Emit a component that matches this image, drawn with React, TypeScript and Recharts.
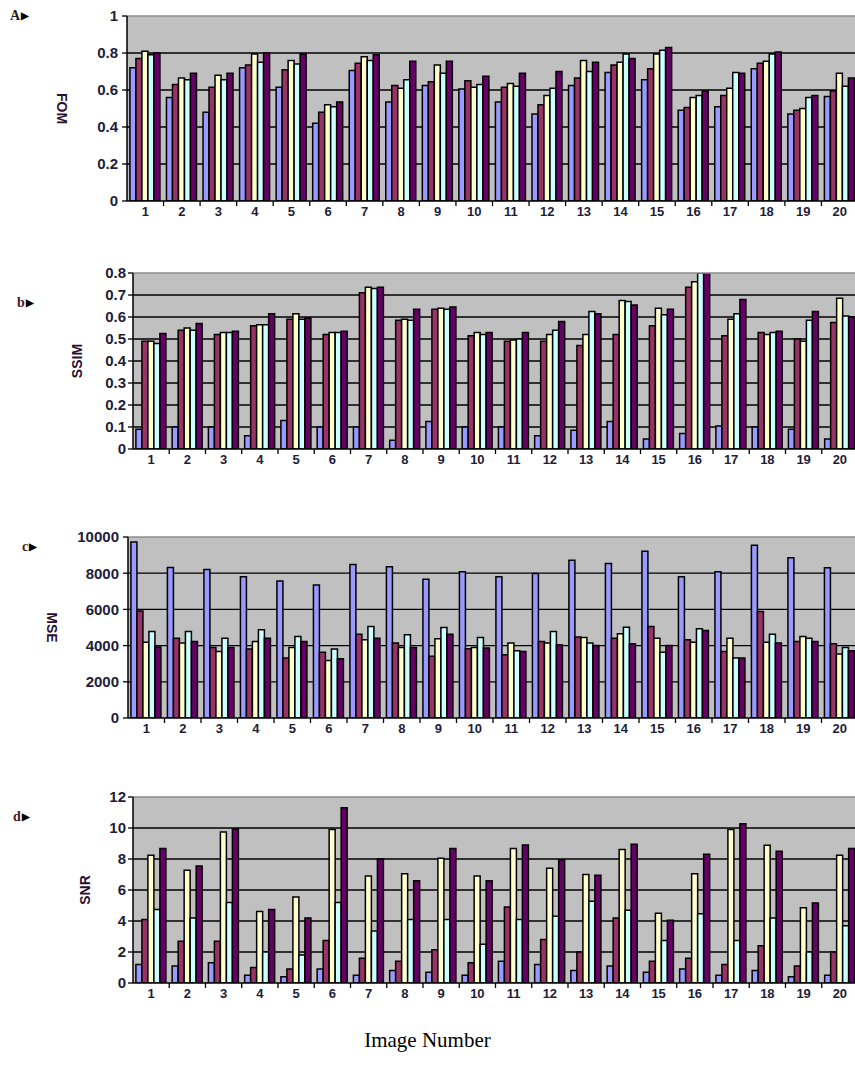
import React from 'react';
import { BarChart, Bar, XAxis, YAxis, CartesianGrid, ReferenceLine } from 'recharts';

const imageNumbers = ['1', '2', '3', '4', '5', '6', '7', '8', '9', '10', '11', '12', '13', '14', '15', '16', '17', '18', '19', '20'];

// FOM (panel A)
const fomLavender = [0.72, 0.56, 0.48, 0.72, 0.615, 0.42, 0.705, 0.535, 0.625, 0.605, 0.535, 0.47, 0.625, 0.695, 0.655, 0.49, 0.51, 0.715, 0.47, 0.565];
const fomMaroon = [0.77, 0.63, 0.615, 0.735, 0.71, 0.48, 0.745, 0.625, 0.645, 0.65, 0.615, 0.52, 0.665, 0.735, 0.715, 0.505, 0.57, 0.745, 0.49, 0.595];
const fomYellow = [0.81, 0.665, 0.68, 0.795, 0.76, 0.52, 0.78, 0.61, 0.735, 0.615, 0.635, 0.57, 0.76, 0.75, 0.795, 0.56, 0.61, 0.755, 0.5, 0.69];
const fomCyan = [0.79, 0.655, 0.655, 0.75, 0.74, 0.51, 0.76, 0.655, 0.69, 0.63, 0.62, 0.61, 0.7, 0.795, 0.815, 0.57, 0.695, 0.795, 0.56, 0.62];
const fomPurple = [0.8, 0.69, 0.69, 0.8, 0.795, 0.535, 0.79, 0.755, 0.755, 0.675, 0.69, 0.7, 0.75, 0.77, 0.83, 0.595, 0.69, 0.805, 0.57, 0.665];

// SSIM (panel b)
const ssimLavender = [0.09, 0.1, 0.1, 0.06, 0.13, 0.1, 0.1, 0.04, 0.125, 0.1, 0.1, 0.06, 0.085, 0.125, 0.045, 0.07, 0.105, 0.1, 0.09, 0.045];
const ssimMaroon = [0.49, 0.54, 0.52, 0.56, 0.59, 0.52, 0.71, 0.585, 0.635, 0.515, 0.49, 0.49, 0.47, 0.52, 0.56, 0.735, 0.515, 0.53, 0.5, 0.575];
const ssimYellow = [0.49, 0.55, 0.53, 0.565, 0.615, 0.53, 0.735, 0.59, 0.64, 0.53, 0.495, 0.52, 0.52, 0.675, 0.64, 0.76, 0.59, 0.52, 0.49, 0.685];
const ssimCyan = [0.48, 0.54, 0.53, 0.565, 0.59, 0.53, 0.73, 0.585, 0.635, 0.52, 0.5, 0.54, 0.625, 0.67, 0.61, 0.8, 0.615, 0.53, 0.585, 0.605];
const ssimPurple = [0.525, 0.57, 0.535, 0.615, 0.595, 0.535, 0.735, 0.635, 0.645, 0.53, 0.53, 0.58, 0.615, 0.655, 0.635, 0.8, 0.68, 0.535, 0.625, 0.6];

// MSE (panel c)
const mseLavender = [9725, 8315, 8205, 7800, 7565, 7345, 8480, 8350, 7670, 8075, 7800, 7985, 8720, 8535, 9210, 7800, 8075, 9540, 8850, 8300];
const mseMaroon = [5915, 4410, 3900, 3810, 3315, 3630, 4630, 4140, 3405, 3830, 3500, 4230, 4470, 4410, 5050, 4320, 3680, 5880, 4230, 4100];
const mseYellow = [4190, 4140, 3680, 4230, 3900, 3170, 4320, 3900, 4375, 3900, 4140, 4140, 4450, 4650, 4410, 4190, 4410, 4190, 4500, 3535];
const mseCyan = [4780, 4780, 4410, 4870, 4500, 3810, 5050, 4600, 5000, 4450, 3720, 4780, 4140, 5020, 3630, 4930, 3315, 4630, 4410, 3900];
const msePurple = [3920, 4230, 3900, 4410, 4230, 3280, 4410, 3900, 4630, 3865, 3680, 4050, 4010, 4100, 4010, 4840, 3315, 4140, 4230, 3720];

// SNR (panel d)
const snrLavender = [1.2, 1.1, 1.3, 0.5, 0.4, 0.9, 0.5, 0.8, 0.7, 0.5, 1.4, 1.2, 0.8, 1.1, 0.7, 0.9, 0.5, 0.8, 0.4, 0.5];
const snrMaroon = [4.1, 2.7, 2.7, 1.0, 0.9, 2.75, 1.6, 1.4, 2.15, 1.3, 4.9, 2.8, 2.0, 4.2, 1.4, 1.6, 1.2, 2.4, 1.1, 2.0];
const snrYellow = [8.24, 7.27, 9.75, 4.62, 5.55, 9.9, 6.9, 7.05, 8.05, 6.9, 8.67, 7.4, 7.0, 8.62, 4.5, 7.05, 9.9, 8.88, 4.86, 8.24];
const snrCyan = [4.75, 4.2, 5.2, 2.0, 1.8, 5.2, 3.35, 4.1, 4.1, 2.5, 4.1, 4.3, 5.27, 4.7, 2.75, 4.47, 2.75, 4.2, 2.0, 3.7];
const snrPurple = [8.67, 7.55, 9.93, 4.75, 4.2, 11.3, 8.0, 6.6, 8.67, 6.6, 8.9, 7.95, 6.95, 8.95, 4.05, 8.3, 10.28, 8.5, 5.16, 8.67];

const fomTicks = [0, 0.2, 0.4, 0.6, 0.8, 1];
const ssimTicks = [0, 0.1, 0.2, 0.3, 0.4, 0.5, 0.6, 0.7, 0.8];
const mseTicks = [0, 2000, 4000, 6000, 8000, 10000];
const snrTicks = [0, 2, 4, 6, 8, 10, 12];

const COLORS = ['#9999FF', '#993366', '#FFFFCC', '#CCFFFF', '#660066'];
const KEYS = ['m1', 'm2', 'm3', 'm4', 'm5'];
const TEXT = '#1d1d3a';

const makeRows = (series: number[][]) =>
    imageNumbers.map((name, i) => {
        const row: any = { name };
        series.forEach((s, k) => { row[KEYS[k]] = s[i]; });
        return row;
    });

const PLOT_RIGHT = 858;
const CHART_W = 860;
const TOP_PAD = 8;
const X_AXIS_H = 30;

const GroupTick = (props: any) => {
    const { x, y, payload, band } = props;
    return (
        <g>
            <line x1={x + band / 2} x2={x + band / 2} y1={y} y2={y + 5} stroke="#000" strokeWidth={1.3} />
            <text x={x} y={y + 6} dy="0.71em" textAnchor="middle" fill={TEXT}
                style={{ fontFamily: 'Arial, "Liberation Sans", sans-serif', fontWeight: 700, fontSize: 13 }}>
                {payload.value}
            </text>
        </g>
    );
};

type PanelProps = {
    rows: any[],
    ticks: number[],
    title: string,
    titleX: number,
    titleAngle: number,
    top: number,
    bottom: number,
    left: number,
    tickGap: number,
};

function Panel({ rows, ticks, title, titleX, titleAngle, top, bottom, left, tickGap }: PanelProps) {
    const height = bottom - top + TOP_PAD + X_AXIS_H;
    const band = (PLOT_RIGHT - left) / imageNumbers.length;
    const max = ticks[ticks.length - 1];
    const midY = TOP_PAD + (bottom - top) / 2;
    return (
        <div style={{ position: 'absolute', left: 0, top: top - TOP_PAD }}>
            <BarChart width={CHART_W} height={height} data={rows}
                margin={{ top: TOP_PAD, right: CHART_W - PLOT_RIGHT, left: 0, bottom: 0 }}
                barGap={0} barCategoryGap="8%">
                <CartesianGrid vertical={false} horizontalValues={ticks.slice(1, -1)}
                    stroke="#000" strokeWidth={1.3} fill="#C0C0C0" fillOpacity={1} />
                <ReferenceLine y={max} stroke="#8c8c8c" strokeWidth={1.5} />
                <XAxis dataKey="name" height={X_AXIS_H} interval={0} tickSize={0} tickMargin={0}
                    tickLine={false} axisLine={{ stroke: '#000', strokeWidth: 1.5 }}
                    tick={<GroupTick band={band} />} />
                <YAxis width={left} domain={[0, max]} ticks={ticks} interval={0} allowDataOverflow
                    tickSize={5} tickMargin={tickGap}
                    axisLine={{ stroke: '#000', strokeWidth: 1.5 }} tickLine={{ stroke: '#000', strokeWidth: 1.3 }}
                    tick={{ fill: TEXT, fontSize: 15, fontWeight: 700, fontFamily: 'Arial, "Liberation Sans", sans-serif' }}
                    label={{
                        content: () => (
                            <text x={titleX} y={midY} textAnchor="middle" dominantBaseline="central"
                                transform={`rotate(${titleAngle} ${titleX} ${midY})`} fill="#2a1030"
                                style={{ fontFamily: 'Arial, "Liberation Sans", sans-serif', fontWeight: 700, fontSize: 14 }}>
                                {title}
                            </text>
                        ),
                    }} />
                {KEYS.map((k, i) => (
                    <Bar key={k} dataKey={k} fill={COLORS[i]} stroke="#000" strokeWidth={1.5} isAnimationActive={false} />
                ))}
            </BarChart>
        </div>
    );
}

const letterStyle: React.CSSProperties = {
    position: 'absolute', fontFamily: '"Liberation Serif", serif', fontWeight: 700, fontSize: 14,
    color: '#4a2020', lineHeight: 1,
};

const arrowStyle: React.CSSProperties = { fontSize: 10, color: '#000', marginLeft: 1, verticalAlign: 1 };

export default function App() {
    return (
        <div style={{ position: 'absolute', left: 0, top: 0, width: 855, height: 1077, overflow: 'hidden', background: '#fff' }}>
            <Panel rows={makeRows([fomLavender, fomMaroon, fomYellow, fomCyan, fomPurple])} ticks={fomTicks}
                title="FOM" titleX={62} titleAngle={90} top={16} bottom={201} left={127} tickGap={4} />
            <Panel rows={makeRows([ssimLavender, ssimMaroon, ssimYellow, ssimCyan, ssimPurple])} ticks={ssimTicks}
                title="SSIM" titleX={77} titleAngle={-90} top={273} bottom={449} left={133} tickGap={2} />
            <Panel rows={makeRows([mseLavender, mseMaroon, mseYellow, mseCyan, msePurple])} ticks={mseTicks}
                title="MSE" titleX={52} titleAngle={90} top={537} bottom={718} left={128} tickGap={4} />
            <Panel rows={makeRows([snrLavender, snrMaroon, snrYellow, snrCyan, snrPurple])} ticks={snrTicks}
                title="SNR" titleX={85} titleAngle={-90} top={797} bottom={983} left={133} tickGap={2} />
            <div style={{ ...letterStyle, left: 10, top: 9, color: '#222' }}>A<span style={arrowStyle}>▶</span></div>
            <div style={{ ...letterStyle, left: 17, top: 296 }}>b<span style={arrowStyle}>▶</span></div>
            <div style={{ ...letterStyle, left: 22, top: 540 }}>c<span style={arrowStyle}>▶</span></div>
            <div style={{ ...letterStyle, left: 13, top: 810 }}>d<span style={arrowStyle}>▶</span></div>
            <div style={{
                position: 'absolute', left: 0, width: 855, top: 1028, textAlign: 'center',
                fontFamily: '"Liberation Serif", "Times New Roman", serif', fontSize: 21, color: '#000',
            }}>Image Number</div>
        </div>
    );
}
